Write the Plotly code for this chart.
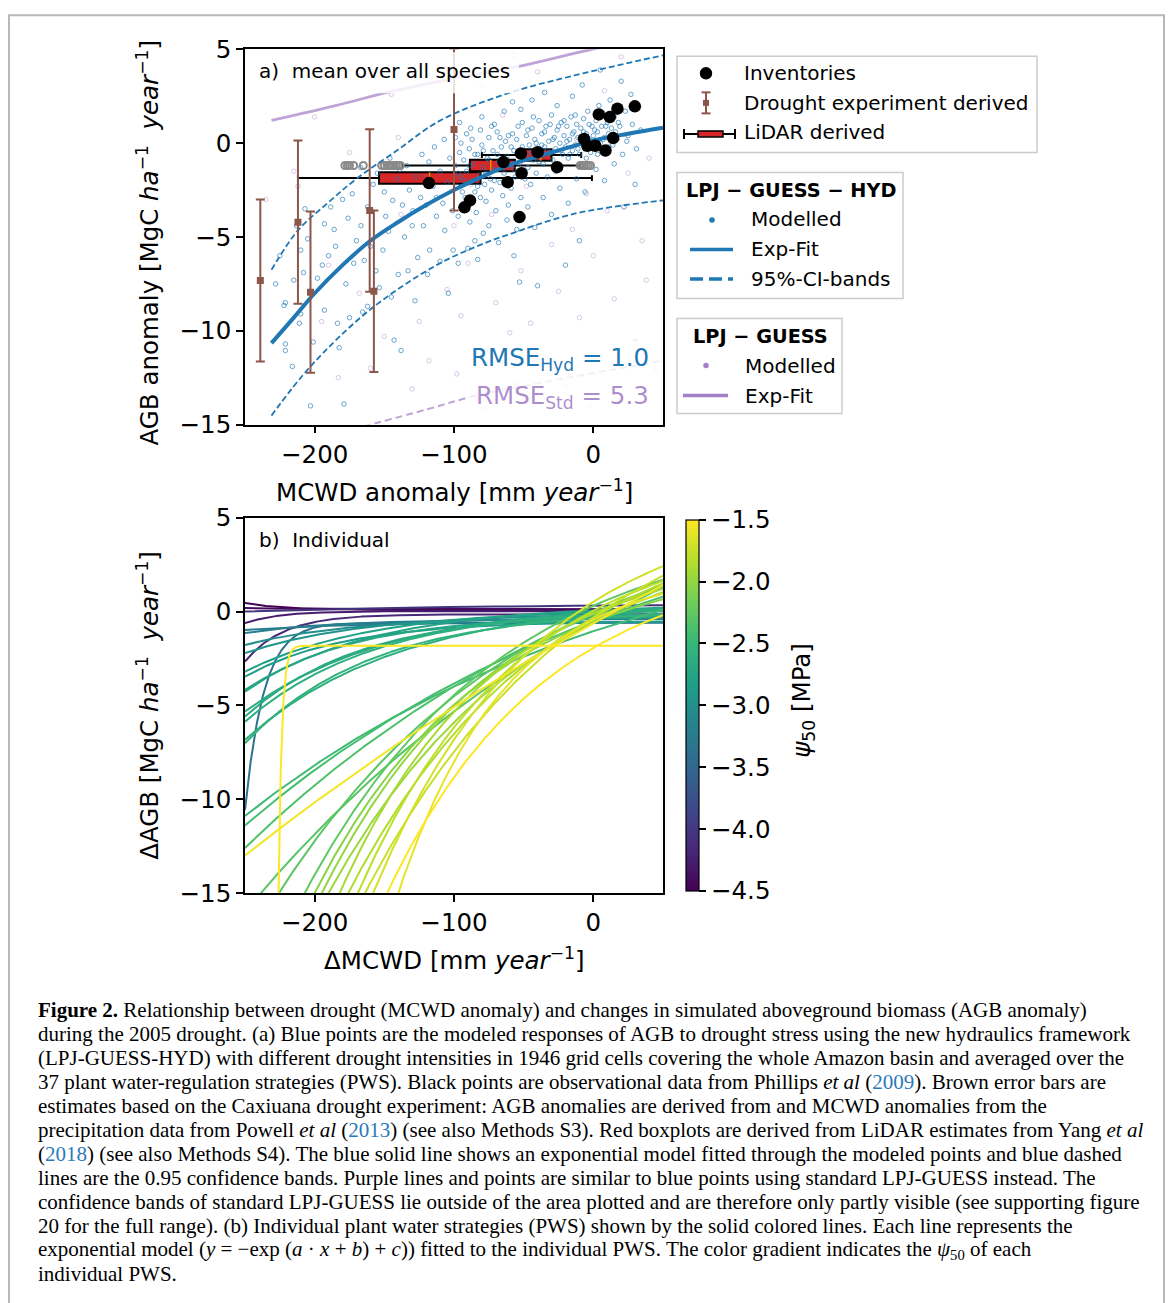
import numpy as np
import plotly.graph_objects as go
from plotly.colors import sample_colorscale

W, H = 1171, 1303
# the rendered page shows the figure slightly compressed vertically (y' = 13.7 + 0.977*y);
# positions below are given in reference-picture pixels and converted here
Y0, KY = 13.7, 0.977
def px(x): return x / W
def py(y): return 1 - ((y - Y0) / KY) / H

FONT = "DejaVu Sans"
SERIF = "Liberation Serif"
BLUE = "#1f77b4"
PURPLE = "#9467bd"
BROWN = "#8c564b"
RED = "#d62728"
ORANGE = "#ff7f0e"

# ---------------- panel a data ----------------
blue_pts = [
 (-221,-8.5),(-222,-8.65),(-221,-10.7),(-221,-11.05),(-216,-11.9),(-211,-9.6),(-210,-9.1),(-208,-6.9),(-210,-5.7),(-205,-5.1),
 (-201,-10.6),(-203,-14.0),(-193,-8.9),(-194.5,-6.5),(-193,-4.3),(-188.5,-3.4),(-185,-5.5),(-183.6,-9.6),(-182.4,-10.9),(-179,-13.9),
 (-177.6,-7.5),(-175,-9.3),(-173,-2.7),(-170,-5.2),(-228,-7.5),(-225,-6.0),(-215,-7.3),(-198,-7.2),(-190,-6.0),(-186,-4.6),
 (-180,-3.0),(-176,-4.0),(-172,-6.4),(-213,-4.4),(-207,-3.5),
 (-166.8,-4.4),(-164.4,-6.25),(-165.6,-9.0),(-162,-8.7),(-153.6,-7.7),(-151,-5.7),(-149,-3.9),(-144,-3.05),(-140,-7.0),(-143,-10.5),
 (-138,-11.05),(-135.5,-5.0),(-132,-2.5),(-129.5,-3.6),(-126,-6.1),(-122,-4.4),(-117.5,-5.7),(-112.6,-2.9),(-112.6,-3.9),(-106.6,-4.65),
 (-100.6,-5.7),(-158,-2.2),(-155,-1.6),(-150,-2.6),(-147,-4.7),(-141,-1.9),(-137,-3.3),(-134,-1.2),(-130,-4.4),(-127,-1.8),
 (-124,-2.9),(-120,-3.3),(-118,-1.0),(-115,-2.3),(-110,-1.5),(-108,-3.2),(-105,-2.1),(-103,-0.8),(-101,-3.6),(-160,-5.5),
 (-156,-6.8),(-145,-8.2),(-133,-6.8),(-128,-8.4),(-119,-7.0),(-110,-6.3),(-104,-8.0),(-167,-1.3),(-162,-3.4),(-146,-0.8),
 (-139,-1.4),(-123,-0.6),(-114,-0.2),(-107,0.2),
 (-98,-2.3),(-97,-3.9),(-92,-2.9),(-88.6,-4.2),(-84,-3.7),(-79,-4.8),(-85,-5.2),(-99,-1.2),(-96,-0.5),(-95,-1.8),
 (-94,-2.6),(-93,-0.9),(-91,-1.5),(-90,-3.3),(-89,-0.3),(-87,-2.0),(-86,-1.1),(-85,-2.6),(-83,-0.6),(-82,-1.7),
 (-81,-2.9),(-80,-0.1),(-79,-1.3),(-78,-2.2),(-77,-3.1),(-76,-0.8),(-75,0.3),(-74,-1.9),(-73,-2.5),(-72,-0.4),
 (-71,-1.4),(-70,-3.6),(-69,0.6),(-68,-1.0),(-67,-2.1),(-66,-0.2),(-65,-2.8),(-64,-1.6),(-63,0.1),(-62,-0.7),
 (-61,-3.3),(-60,-1.2),(-59,-2.4),(-58,0.5),(-57,-0.4),(-56,-1.8),(-55,-4.6),(-54,0.9),(-53,-1.1),(-52,-2.9),
 (-51,-0.2),(-50,-1.5),(-97,-6.4),(-90,-5.6),(-83,-6.2),(-75,-4.4),(-68,-5.3),(-62,-4.1),(-57,-6.0),(-53,-7.4),
 (-96,1.1),(-88,0.8),(-80,1.4),(-71,1.0),(-64,1.7),(-58,2.2),(-52,1.8),
 (-49,-0.6),(-48,0.4),(-47,-1.3),(-46,-0.1),(-45,-2.2),(-44,0.8),(-43,-0.9),(-42,0.2),(-41,-1.6),(-40,-0.4),
 (-39,1.2),(-38,-0.7),(-37,0.5),(-36,-1.1),(-35,-0.2),(-34,0.9),(-33,-1.8),(-32,0.1),(-31,-0.5),(-30,1.5),
 (-29,-0.9),(-28,0.3),(-27,-0.3),(-26,0.7),(-25,-1.3),(-24,0.0),(-23,1.1),(-22,-0.6),(-21,0.4),(-20,-0.2),
 (-19,0.9),(-18,-0.8),(-17,0.2),(-16,1.4),(-15,-0.4),(-14,0.6),(-13,-0.1),(-12,1.0),(-11,0.3),(-10,-0.6),
 (-9,0.8),(-8,0.1),(-7,1.3),(-6,-0.3),(-5,0.5),(-4,1.7),(-3,0.2),(-2,-0.5),(-1,0.9),(0,0.4),
 (-47,-3.4),(-42,-4.5),(-36,-2.9),(-30,-3.8),(-24,-2.4),(-18,-3.2),(-12,-1.9),(-6,-2.6),(-44,2.3),(-35,2.7),
 (-26,2.0),(-15,2.5),(-8,3.1),(-20,-6.5),(-40,-7.6),(-10,-5.2),
 (1,-0.2),(2,1.2),(3,0.6),(4,2.0),(5,0.0),(6,0.9),(7,1.6),(8,0.3),(9,-0.4),(10,1.1),
 (11,0.5),(12,2.3),(13,0.8),(14,-0.1),(15,1.4),(17,0.2),(19,0.9),(21,-0.6),(23,1.7),(25,0.4),
 (28,1.0),(31,-0.3),(34,0.7),(2,-1.4),(8,-2.0),(15,-1.1),(22,-3.4),(30,-2.2),(20,3.3),(5,3.9),(27,2.6),
 (-99,0.3),(-97,-1.6),(-95,0.0),(-93,-2.0),(-91,0.5),(-89,-1.2),(-87,0.2),(-85,-0.6),(-83,-2.3),(-81,0.7),
 (-79,-0.4),(-77,-1.6),(-75,-0.9),(-73,0.9),(-71,-2.0),(-69,-0.6),(-67,0.3),(-65,-1.3),(-63,-0.9),(-61,0.4),
 (-59,-0.2),(-57,-1.4),(-55,0.2),(-53,-0.5),(-51,1.1),(-49,-1.9),(-47,0.7),(-45,-0.5),(-43,1.4),(-41,0.0),
 (-39,-1.0),(-37,-0.1),(-35,0.6),(-33,-0.4),(-31,1.0),(-29,0.2),(-27,-1.5),(-25,0.9),(-23,-0.4),(-21,1.2),
 (-19,0.1),(-17,-0.6),(-15,0.5),(-13,1.5),(-11,-0.3),(-9,0.2),(-7,0.6),(-5,-0.8),(-3,1.0),(-1,0.1),
 (1,0.7),(3,-0.6),(5,1.5),(7,0.2),(9,0.9),(11,-0.2),(13,1.6),(16,0.6),(18,1.1),(24,0.1),
]
purple_pts = [
 (-235,-3.0),(-215,-1.5),(-200,1.4),(-190,-6.5),(-183,-12.5),(-175,-0.5),(-168,-8.0),(-160,-12.0),(-150,-10.3),(-145,2.6),
 (-138,-3.8),(-130,-13.1),(-125,-9.5),(-118,-11.6),(-110,4.2),(-105,-7.8),(-98,-12.3),(-95,-9.2),(-90,-6.4),(-85,-13.6),
 (-80,3.1),(-75,-11.0),(-70,-8.5),(-65,1.5),(-60,-10.1),(-55,-12.8),(-52,-6.8),(-45,-9.6),(-40,3.8),(-35,-11.4),
 (-30,-5.4),(-25,-7.9),(-20,-13.0),(-15,-4.6),(-10,-9.3),(-5,-2.7),(0,-6.0),(5,-11.3),(10,-3.6),(15,-8.3),
 (20,4.6),(25,-1.6),(30,-10.6),(35,-5.2),(40,-0.8),(45,-12.1),(-120,-1.8),(-100,-4.4),(-88,-2.2),(-73,-3.8),
 (-63,-0.9),(-48,-2.3),(-28,-1.2),(-12,0.2),(8,2.8),(-57,4.7),(-140,0.3),(-165,3.6),(-212,-2.3),(-195,-9.5),
 (38,-7.3),(-3,-14.0),(-78,-14.2),
]
fit_hyd_x = [-231, -215, -200, -180, -160, -140, -120, -100, -80, -60, -40, -20, 0, 25, 50]
fit_hyd_y = [-10.66, -9.3, -8.0, -6.5, -5.2, -4.2, -3.3, -2.5, -1.8, -1.15, -0.72, -0.28, 0.15, 0.5, 0.82]
ci_up_x = [-231, -212, -190, -170, -141, -110, -62, -13.5, 50]
ci_up_y = [-6.75, -4.65, -3.15, -1.9, -0.39, 1.2, 2.64, 3.61, 4.68]
ci_lo_x = [-231, -203, -161, -113, -77, -62, -13.5, 50]
ci_lo_y = [-14.52, -11.9, -8.92, -6.52, -5.3, -4.9, -3.76, -3.05]
fit_std_x = [-231, -185, -147, -100, -50, -4, 20]
fit_std_y = [1.21, 2.0, 2.72, 3.45, 4.15, 4.95, 5.3]
ci_std_x = [-165, -120, -84, -40, 0, 50]
ci_std_y = [-15.1, -14.2, -13.45, -12.8, -12.25, -11.6]

inv_x = [29.8, 17.3, 11.8, 3.9, 14.2, -6.7, -4.3, 1.4, 8.7, -26, -52, -40, -64.5, -51.5, -61.5, -88.5, -92.5, -53, -118]
inv_y = [1.96, 1.84, 1.39, 1.53, 0.27, 0.22, -0.14, -0.14, -0.39, -1.28, -0.55, -0.48, -1.01, -1.6, -2.08, -3.05, -3.42, -3.94, -2.13]

drought_x = [-239, -212, -203, -160.5, -157.5, -100]
drought_y = [-7.32, -4.21, -7.94, -3.59, -7.89, 0.73]
drought_err = [4.32, 4.35, 4.3, 4.33, 4.3, 4.32]

lidar_pos = [-1.86, -1.19, -0.63]
lidar_lo = [-212, -137, -80]
lidar_q1 = [-153.8, -88.6, -50.5]
lidar_med = [-117.5, -73.6, -37.8]
lidar_q3 = [-80.9, -56.3, -30.0]
lidar_hi = [-1.0, -9.9, -8.7]
flier_x = [-178.3, -176.5, -175, -172, -165.1, -151.9, -150, -148, -146, -144.5, -143, -141.5, -140, -138.5,
           -9.5, -8, -6.5, -5, -3.5, -2]
flier_y = [-1.19] * len(flier_x)

# ---------------- panel b data (exp-model per PWS: y = c - A*exp(-r*(x+250))) ----------------
pws_psi = [-4.50, -4.42, -4.28, -4.15, -4.05,
           -3.35, -3.25, -3.20, -3.05, -2.95, -2.85, -2.80, -2.75, -2.72, -2.68, -2.65, -2.62, -2.60, -2.55,
           -2.45, -2.40, -2.35, -2.30, -2.28, -2.25,
           -2.05, -2.00, -1.95, -1.90, -1.85, -1.80, -1.75, -1.70, -1.60, -1.50, -1.55, -1.50]
pws_c = [0.08, 0.12, 0.02, -0.15, 0.40,
         -0.6, -0.55, -0.40, -0.30, -0.10, -0.50, 0.20, 0.40, -0.20, 0.50, 0.00, 0.60, 0.30, 0.10,
         6, 8, 10, 12, 6, 5,
         3, 4, 5, 3.5, 6, 4.5, 8, 6, 2.5, 3, 30, -1.82]
pws_A = [-0.37, -0.06, 0.64, 2.52, 0.40,
         9.98, 0.43, 0.75, 1.48, 2.12, 2.97, 3.40, 4.58, 4.07, 5.83, 5.60, 7.44, 6.17, 7.12,
         16.9, 19.4, 22.6, 28, 24, 27,
         27.06, 29.3, 29.96, 34.1, 34.8, 39.6, 39.3, 45.9, 71.2, 43.9, 43, 247700]
pws_r = [0.035, 0.02, 0.04, 0.0363, 0.006,
         0.0733, 0.012, 0.015, 0.013, 0.012, 0.014, 0.011, 0.0105, 0.013, 0.0095, 0.012, 0.009, 0.0105, 0.011,
         0.0035, 0.0033, 0.0032, 0.0032, 0.0055, 0.007,
         0.00815, 0.00785, 0.00674, 0.009, 0.00682, 0.00874, 0.00622, 0.0085, 0.01276, 0.00874, 0.00136, 0.41]
PSI_MIN, PSI_MAX = -4.5, -1.5

fig = go.Figure()

# panel a traces
fig.add_trace(go.Scatter(x=[p[0] for p in purple_pts], y=[p[1] for p in purple_pts], mode="markers",
    marker=dict(symbol="circle-open", size=4.5, color="rgba(148,103,189,0.35)", line=dict(width=1)),
    xaxis="x", yaxis="y", hoverinfo="skip"))
fig.add_trace(go.Scatter(x=[p[0] for p in blue_pts], y=[p[1] for p in blue_pts], mode="markers",
    marker=dict(symbol="circle-open", size=4.5, color="rgba(31,119,180,0.65)", line=dict(width=1)),
    xaxis="x", yaxis="y", hoverinfo="skip"))
for i in range(3):
    fig.add_trace(go.Box(y=[lidar_pos[i]], q1=[lidar_q1[i]], median=[lidar_med[i]], q3=[lidar_q3[i]],
        lowerfence=[lidar_lo[i]], upperfence=[lidar_hi[i]], orientation="h", width=0.62,
        fillcolor=RED, line=dict(color="black", width=2), whiskerwidth=0.5, boxpoints=False,
        xaxis="x", yaxis="y", hoverinfo="skip"))
mx, my = [], []
for m, p in zip(lidar_med, lidar_pos):
    mx += [m, m, None]; my += [p - 0.29, p + 0.29, None]
fig.add_trace(go.Scatter(x=mx, y=my, mode="lines", line=dict(color=ORANGE, width=2), xaxis="x", yaxis="y", hoverinfo="skip"))
fig.add_trace(go.Scatter(x=flier_x, y=flier_y, mode="markers",
    marker=dict(symbol="circle-open", size=7, color="#8a8a8a", line=dict(width=2)), xaxis="x", yaxis="y", hoverinfo="skip"))
fig.add_trace(go.Scatter(x=fit_std_x, y=fit_std_y, mode="lines", line=dict(color="rgba(148,103,189,0.6)", width=2.8, shape="spline"),
    xaxis="x", yaxis="y", hoverinfo="skip"))
fig.add_trace(go.Scatter(x=ci_std_x, y=ci_std_y, mode="lines", line=dict(color="rgba(148,103,189,0.6)", width=2, dash="7px,4px", shape="spline"),
    xaxis="x", yaxis="y", hoverinfo="skip"))
for cx, cy in [(ci_up_x, ci_up_y), (ci_lo_x, ci_lo_y)]:
    fig.add_trace(go.Scatter(x=cx, y=cy, mode="lines", line=dict(color=BLUE, width=1.8, dash="6px,3px", shape="spline"),
        xaxis="x", yaxis="y", hoverinfo="skip"))
fig.add_trace(go.Scatter(x=fit_hyd_x, y=fit_hyd_y, mode="lines", line=dict(color=BLUE, width=4, shape="spline"),
    xaxis="x", yaxis="y", hoverinfo="skip"))
fig.add_trace(go.Scatter(x=drought_x, y=drought_y, mode="markers",
    marker=dict(symbol="square", size=7, color=BROWN),
    error_y=dict(type="data", array=drought_err, color=BROWN, thickness=2, width=4.5),
    xaxis="x", yaxis="y", hoverinfo="skip"))
fig.add_trace(go.Scatter(x=inv_x, y=inv_y, mode="markers", marker=dict(size=12.5, color="black"),
    xaxis="x", yaxis="y", hoverinfo="skip"))

# panel b lines
xs = np.arange(-250, 50.01, 0.25)
for psi, c, A, r in zip(pws_psi, pws_c, pws_A, pws_r):
    ys = c - A * np.exp(-r * (xs + 250))
    ys = np.clip(ys, -60, 20)
    col = sample_colorscale("Viridis", [(psi - PSI_MIN) / (PSI_MAX - PSI_MIN)])[0]
    fig.add_trace(go.Scatter(x=xs, y=ys, mode="lines", line=dict(color=col, width=2),
        xaxis="x2", yaxis="y2", hoverinfo="skip"))
cb_top, cb_bot = py(519), py(890)
fig.add_trace(go.Scatter(x=[-1000], y=[-1000], mode="markers", xaxis="x2", yaxis="y2", hoverinfo="skip",
    marker=dict(color=[PSI_MIN], cmin=PSI_MIN, cmax=PSI_MAX, colorscale="Viridis", showscale=True, size=1,
        colorbar=dict(x=px(686), xanchor="left", xpad=0, ypad=0, y=(cb_top + cb_bot) / 2, yanchor="middle",
            len=(cb_top - cb_bot), lenmode="fraction", thickness=13, thicknessmode="pixels",
            outlinewidth=1.2, outlinecolor="black", ticks="outside", ticklen=7, tickwidth=1.5, tickcolor="black",
            tickvals=[-4.5, -4.0, -3.5, -3.0, -2.5, -2.0, -1.5],
            ticktext=["−4.5", "−4.0", "−3.5", "−3.0", "−2.5", "−2.0", "−1.5"],
            tickfont=dict(family=FONT, size=24.5, color="black")))))

ax = dict(showline=True, linecolor="black", linewidth=1.6, mirror=True, ticks="outside", ticklen=7, tickwidth=1.5,
          tickcolor="black", showgrid=False, zeroline=False, tickfont=dict(family=FONT, size=24.5, color="black"))
xt = dict(tickvals=[-200, -100, 0], ticktext=["−200", "−100", "0"], range=[-250, 50])
yt = dict(tickvals=[-15, -10, -5, 0, 5], ticktext=["−15", "−10", "−5", "0", "5"], range=[-15, 5])

shapes = []
annotations = []
def rect(x0, y0, x1, y1, fill="white", line="#cccccc", lw=1.5, opacity=1, layer="above"):
    shapes.append(dict(type="rect", xref="paper", yref="paper", x0=px(x0), x1=px(x1), y0=py(y1), y1=py(y0),
        fillcolor=fill, line=dict(color=line, width=lw), opacity=opacity, layer=layer))
def seg(x0, y0, x1, y1, color, lw, dash=None):
    d = dict(type="line", xref="paper", yref="paper", x0=px(x0), x1=px(x1), y0=py(y0), y1=py(y1),
             line=dict(color=color, width=lw))
    if dash: d["line"]["dash"] = dash
    shapes.append(d)
def dot(cx, cy, d, color):
    shapes.append(dict(type="circle", xref="paper", yref="paper", x0=px(cx - d/2), x1=px(cx + d/2),
        y0=py(cy + d/2), y1=py(cy - d/2), fillcolor=color, line=dict(width=0)))
def text(x, y, s, size=20, anchor="left", color="black", family=FONT, angle=0):
    annotations.append(dict(xref="paper", yref="paper", x=px(x), y=py(y), text=s, showarrow=False,
        xanchor=anchor, yanchor="middle", textangle=angle, font=dict(family=family, size=size, color=color)))

# figure border (top edge as high as the page allows)
shapes.append(dict(type="rect", xref="paper", yref="paper", x0=px(9), x1=px(1164), y0=-0.05, y1=1 - 1.2 / H,
    line=dict(color="#b8b8b8", width=2), fillcolor="rgba(0,0,0,0)", layer="below"))
# translucent text boxes in panel a
rect(250, 52, 519, 93, fill="white", line="rgba(0,0,0,0)", lw=0, opacity=0.82)
rect(468, 340, 660, 413, fill="white", line="rgba(0,0,0,0)", lw=0, opacity=0.82)
text(257, 71, "a)\u00a0 mean over all species", size=20)
text(651, 358, "RMSE<sub>Hyd</sub> = 1.0", size=24.5, anchor="right", color=BLUE)
text(651, 396, "RMSE<sub>Std</sub> = 5.3", size=24.5, anchor="right", color="rgba(148,103,189,0.75)")
text(257, 539, "b)\u00a0 Individual", size=20)

# axis titles
text(454, 490, "MCWD anomaly [mm <i>year</i><sup>−1</sup>]", size=24.5, anchor="center")
text(454, 958, "ΔMCWD [mm <i>year</i><sup>−1</sup>]", size=24.5, anchor="center")
text(148, 243, "AGB anomaly [MgC <i>ha</i><sup>−1</sup>\u00a0\u00a0<i>year</i><sup>−1</sup>]", size=24.5, anchor="center", angle=-90)
text(148, 705, "ΔAGB [MgC <i>ha</i><sup>−1</sup>\u00a0\u00a0<i>year</i><sup>−1</sup>]", size=24.5, anchor="center", angle=-90)
text(803, 700, "<i>ψ</i><sub>50</sub> [MPa]", size=24.5, anchor="center", angle=-90)

# legend 1
rect(677, 56, 1037, 152)
dot(706, 73, 12.5, "black")
seg(706, 92, 706, 113, BROWN, 2); seg(701.5, 92, 710.5, 92, BROWN, 2); seg(701.5, 113, 710.5, 113, BROWN, 2)
rect(703, 99.5, 709, 105.5, fill=BROWN, line=BROWN, lw=0)
seg(684, 133.5, 735, 133.5, "black", 2); seg(684, 128.5, 684, 138.5, "black", 2); seg(735, 128.5, 735, 138.5, "black", 2)
rect(698, 130.5, 723, 136.5, fill=RED, line="black", lw=1.5)
text(742, 73, "Inventories"); text(742, 102.5, "Drought experiment derived"); text(742, 132, "LiDAR derived")
# legend 2
rect(677, 172, 903, 298)
text(790.5, 190, "<b>LPJ − GUESS − HYD</b>", size=19.3, anchor="center")
dot(712, 219.5, 5.5, BLUE)
seg(690, 249, 733, 249, BLUE, 3.5)
seg(690, 278.5, 733, 278.5, BLUE, 3.5, dash="13px,6px")
text(749, 219, "Modelled"); text(749, 249, "Exp-Fit"); text(749, 278.5, "95%-CI-bands")
# legend 3
rect(677, 318, 842, 413)
text(760, 336, "<b>LPJ − GUESS</b>", size=19.3, anchor="center")
dot(706, 365, 5.5, "rgba(148,103,189,0.85)")
seg(683, 395, 728, 395, "rgba(148,103,189,0.85)", 3.5)
text(743, 365, "Modelled"); text(743, 395, "Exp-Fit")

# caption
LNK = "#2a7ab9"
cap = [
 "<b>Figure 2.</b> Relationship between drought (MCWD anomaly) and changes in simulated aboveground biomass (AGB anomaly)",
 "during the 2005 drought. (a) Blue points are the modeled responses of AGB to drought stress using the new hydraulics framework",
 "(LPJ-GUESS-HYD) with different drought intensities in 1946 grid cells covering the whole Amazon basin and averaged over the",
 f"37 plant water-regulation strategies (PWS). Black points are observational data from Phillips <i>et al</i> (<span style='color:{LNK}'>2009</span>). Brown error bars are",
 "estimates based on the Caxiuana drought experiment: AGB anomalies are derived from and MCWD anomalies from the",
 f"precipitation data from Powell <i>et al</i> (<span style='color:{LNK}'>2013</span>) (see also Methods S3). Red boxplots are derived from LiDAR estimates from Yang <i>et al</i>",
 f"(<span style='color:{LNK}'>2018</span>) (see also Methods S4). The blue solid line shows an exponential model fitted through the modeled points and blue dashed",
 "lines are the 0.95 confidence bands. Purple lines and points are similar to blue points using standard LPJ-GUESS instead. The",
 "confidence bands of standard LPJ-GUESS lie outside of the area plotted and are therefore only partly visible (see supporting figure",
 "20 for the full range). (b) Individual plant water strategies (PWS) shown by the solid colored lines. Each line represents the",
 "exponential model (<i>y</i> = −exp (<i>a</i> · <i>x</i> + <i>b</i>) + <i>c</i>)) fitted to the individual PWS. The color gradient indicates the <i>ψ</i><sub>50</sub> of each",
 "individual PWS.",
]
for i, s in enumerate(cap):
    text(36, 1009 + 24 * i, s, size=21.0, family=SERIF)

fig.update_layout(
    width=W, height=H, margin=dict(l=0, r=0, t=0, b=0, pad=0), paper_bgcolor="white", plot_bgcolor="white",
    showlegend=False, font=dict(family=FONT, size=24.5, color="black"),
    xaxis=dict(domain=[px(245), px(663)], anchor="y", **ax, **xt),
    yaxis=dict(domain=[py(424), py(49)], anchor="x", **ax, **yt),
    xaxis2=dict(domain=[px(245), px(663)], anchor="y2", **ax, **xt),
    yaxis2=dict(domain=[py(892), py(517)], anchor="x2", **ax, **yt),
    shapes=shapes, annotations=annotations,
)
fig.write_html("out.html", config={"displayModeBar": False},
               post_script="document.body.style.margin='0';")
